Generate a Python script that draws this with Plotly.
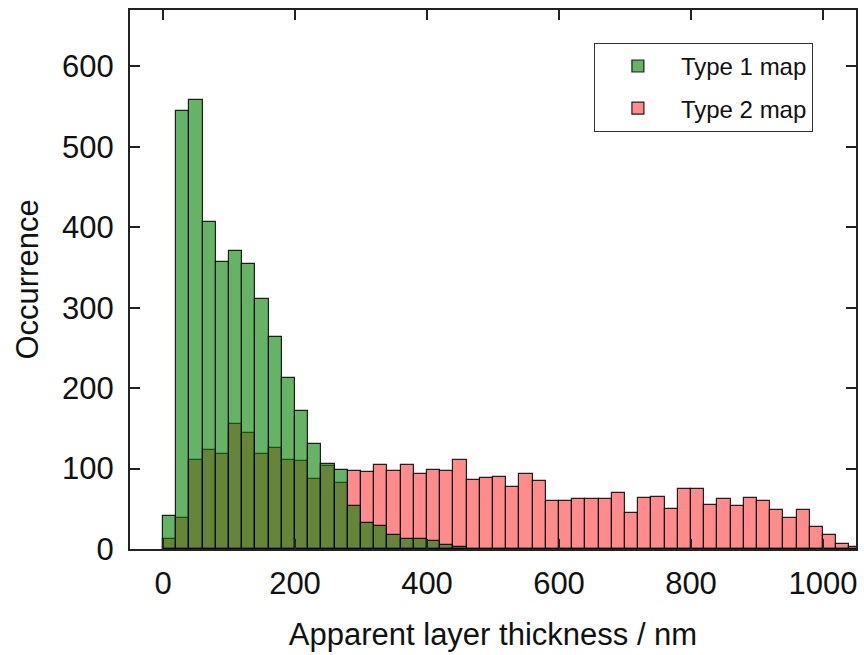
import plotly.graph_objects as go

# Histogram bins: left edges (nm), bin width 20 nm
bin_width = 20
bin_left = list(range(0, 1060, 20))  # 0 .. 1040

# Occurrence per bin
type1_counts = [41, 544, 558, 407, 357, 371, 354, 311, 263, 212,
                171, 130, 106, 98, 53, 32, 28, 17, 12, 12,
                10, 5, 2, 0, 0, 0, 0, 0, 0, 0,
                0, 0, 0, 0, 0, 0, 0, 0, 0, 0,
                0, 0, 0, 0, 0, 0, 0, 0, 0, 0,
                0, 0, 0]
type2_counts = [12, 39, 111, 123, 118, 156, 144, 118, 125, 111,
                110, 87, 103, 82, 97, 96, 104, 97, 105, 93,
                98, 97, 111, 86, 88, 90, 77, 93, 85, 60,
                60, 62, 62, 62, 69, 45, 64, 65, 50, 74,
                74, 55, 62, 53, 63, 60, 49, 39, 48, 27,
                17, 6, 2]

series_names = ["Type 1 map", "Type 2 map"]
x_ticks = [0, 200, 400, 600, 800, 1000]
y_ticks = [0, 100, 200, 300, 400, 500, 600]

centers = [b + bin_width / 2 for b in bin_left]

FONT = "Liberation Sans, Arial, sans-serif"

fig = go.Figure()
# Type 2 drawn first so Type 1 (semi-transparent) overlays it
fig.add_trace(go.Bar(
    x=centers, y=type2_counts, width=bin_width, name=series_names[1],
    marker=dict(color="rgba(255,0,0,0.45)",
                line=dict(color="rgba(0,0,0,0.85)", width=1.2)),
    legendrank=2, legendgroup="t2",
))
fig.add_trace(go.Bar(
    x=centers, y=type1_counts, width=bin_width, name=series_names[0],
    marker=dict(color="rgba(0,128,0,0.6)",
                line=dict(color="rgba(0,0,0,0.85)", width=1.2)),
    legendrank=1, legendgroup="t1",
))

axis_common = dict(
    showline=True, linecolor="#222", linewidth=2, mirror="ticks",
    ticks="inside", ticklen=10, tickwidth=2, tickcolor="#222",
    showgrid=False, zeroline=False, automargin=False,
    tickfont=dict(family=FONT, size=31, color="#111"),
)

fig.update_layout(
    width=864, height=655,
    barmode="overlay",
    bargap=0,
    paper_bgcolor="white", plot_bgcolor="white",
    margin=dict(l=130, r=8, t=10, b=106, autoexpand=False),
    font=dict(family=FONT, color="#111"),
    xaxis=dict(
        range=[-50, 1050], tickvals=x_ticks,
        title=dict(text="Apparent layer thickness / nm",
                   font=dict(family=FONT, size=31, color="#111"), standoff=23),
        ticklabelstandoff=6,
        **axis_common,
    ),
    yaxis=dict(
        range=[0, 670], tickvals=y_ticks,
        title=dict(text="Occurrence",
                   font=dict(family=FONT, size=31, color="#111"), standoff=14),
        ticklabelstandoff=8,
        **axis_common,
    ),
    legend=dict(
        x=0.639, y=0.939, xanchor="left", yanchor="top",
        bgcolor="white", bordercolor="#333", borderwidth=1,
        font=dict(family=FONT, size=24, color="#111"),
        itemwidth=76, tracegroupgap=8,
    ),
)

fig.write_html(
    "out.html",
    config={"displayModeBar": False},
    post_script="document.body.style.margin='0';document.body.style.overflow='hidden';",
)
